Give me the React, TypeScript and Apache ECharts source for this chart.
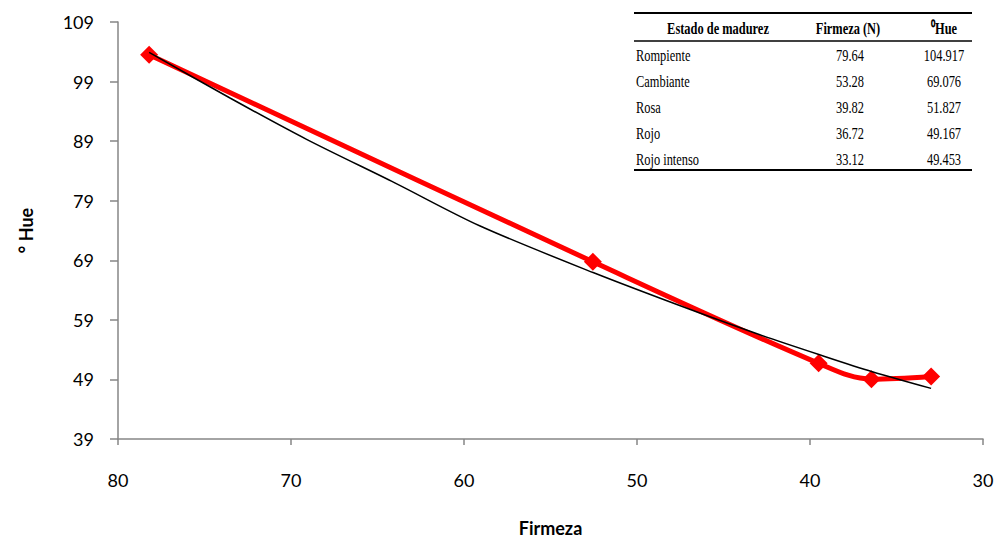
import React, { useEffect, useRef } from "react";
import * as echarts from "echarts";

// Measured series (Firmeza, °Hue)
const redPoints: [number, number][] = [
  [78.2, 103.5],
  [52.55, 68.75],
  [39.5, 51.7],
  [36.45, 49.05],
  [33.0, 49.5],
];

// Trend line (thin black)
const trendPoints: [number, number][] = [
  [78.2, 103.9],
  [73.5, 96.2],
  [69.1, 89.3],
  [64.0, 82.0],
  [59.1, 74.8],
  [52.5, 66.9],
  [46.8, 60.6],
  [42.9, 56.5],
  [39.4, 53.1],
  [36.4, 50.3],
  [33.0, 47.5],
];

const xTicks = [80, 70, 60, 50, 40, 30];
const yTicks = [39, 49, 59, 69, 79, 89, 99, 109];

// Table content
const tableHeaders = ["Estado de madurez", "Firmeza (N)", "⁰Hue"];
const tableStates = ["Rompiente", "Cambiante", "Rosa", "Rojo", "Rojo intenso"];
const tableFirmeza = ["79.64", "53.28", "39.82", "36.72", "33.12"];
const tableHue = ["104.917", "69.076", "51.827", "49.167", "49.453"];

export default function App() {
  const ref = useRef<HTMLDivElement>(null);

  useEffect(() => {
    if (!ref.current) return;
    const chart = echarts.init(ref.current, undefined, { renderer: "svg" });

    const tx0 = 634;
    const sx = 0.73;
    const gx = (px: number) => (px - tx0) / sx;
    const rowY = [55, 81, 107, 133, 159];
    const serif = "'Liberation Serif', 'Times New Roman', serif";
    const fs = 17;

    const tableChildren: any[] = [
      { type: "line", shape: { x1: 0, y1: 13, x2: gx(972), y2: 13 }, style: { stroke: "#000", lineWidth: 2 } },
      { type: "line", shape: { x1: 0, y1: 41, x2: gx(972), y2: 41 }, style: { stroke: "#000", lineWidth: 1.3 } },
      { type: "line", shape: { x1: 0, y1: 170, x2: gx(972), y2: 170 }, style: { stroke: "#000", lineWidth: 2 } },
      {
        type: "text", x: gx(718), y: 28,
        style: { text: tableHeaders[0], font: `bold ${fs}px ${serif}`, fill: "#000", align: "center", verticalAlign: "middle" },
      },
      {
        type: "text", x: gx(848), y: 28,
        style: { text: tableHeaders[1], font: `bold ${fs}px ${serif}`, fill: "#000", align: "center", verticalAlign: "middle" },
      },
      {
        type: "text", x: gx(944), y: 28,
        style: { text: tableHeaders[2], font: `bold ${fs}px ${serif}`, fill: "#000", align: "center", verticalAlign: "middle" },
      },
    ];
    tableStates.forEach((s, i) => {
      tableChildren.push({
        type: "text", x: gx(636), y: rowY[i],
        style: { text: s, font: `${fs}px ${serif}`, fill: "#000", align: "left", verticalAlign: "middle" },
      });
      tableChildren.push({
        type: "text", x: gx(850), y: rowY[i],
        style: { text: tableFirmeza[i], font: `${fs}px ${serif}`, fill: "#000", align: "center", verticalAlign: "middle" },
      });
      tableChildren.push({
        type: "text", x: gx(944), y: rowY[i],
        style: { text: tableHue[i], font: `${fs}px ${serif}`, fill: "#000", align: "center", verticalAlign: "middle" },
      });
    });

    const axisFont = "Lato, 'Open Sans', sans-serif";

    chart.setOption({
      animation: false,
      backgroundColor: "#fff",
      grid: { left: 118, top: 22, width: 865, height: 421, containLabel: false },
      xAxis: {
        type: "value",
        inverse: true,
        min: 30,
        max: 80,
        interval: 10,
        name: "Firmeza",
        nameLocation: "middle",
        nameGap: 80,
        nameTextStyle: { fontFamily: axisFont, fontSize: 18, fontWeight: "bold", color: "#000" },
        axisLine: { onZero: false, lineStyle: { color: "#868686", width: 1.5 } },
        axisTick: { show: true, inside: false, length: 6, lineStyle: { color: "#868686", width: 1.5 } },
        axisLabel: {
          margin: 32,
          fontFamily: axisFont,
          fontSize: 18,
          color: "#000",
          formatter: (v: number) => (xTicks.includes(v) ? String(v) : ""),
        },
        splitLine: { show: false },
      },
      yAxis: {
        type: "value",
        min: 39,
        max: 109,
        interval: 10,
        name: "° Hue",
        nameLocation: "middle",
        nameGap: 83,
        nameRotate: 90,
        nameTextStyle: { fontFamily: axisFont, fontSize: 18, fontWeight: "bold", color: "#000" },
        axisLine: { show: true, onZero: false, lineStyle: { color: "#868686", width: 1.5 } },
        axisTick: { show: true, inside: false, length: 8, lineStyle: { color: "#868686", width: 1.5 } },
        axisLabel: {
          margin: 24,
          fontFamily: axisFont,
          fontSize: 18,
          color: "#000",
          formatter: (v: number) => (yTicks.includes(v) ? String(v) : ""),
        },
        splitLine: { show: false },
      },
      series: [
        {
          type: "line",
          data: redPoints,
          smooth: 0.35,
          symbol: "diamond",
          symbolSize: 18,
          showSymbol: true,
          lineStyle: { color: "#ff0000", width: 5 },
          itemStyle: { color: "#ff0000" },
          z: 2,
        },
        {
          type: "line",
          data: trendPoints,
          smooth: 0.3,
          showSymbol: false,
          symbol: "none",
          lineStyle: { color: "#000", width: 1.5 },
          z: 3,
        },
      ],
      graphic: [
        {
          type: "group",
          x: tx0,
          y: 0,
          scaleX: sx,
          scaleY: 1,
          children: tableChildren,
        },
      ],
    });

    return () => chart.dispose();
  }, []);

  return (
    <div
      ref={ref}
      style={{ position: "fixed", left: 0, top: 0, width: 1004, height: 542, background: "#fff" }}
    />
  );
}
